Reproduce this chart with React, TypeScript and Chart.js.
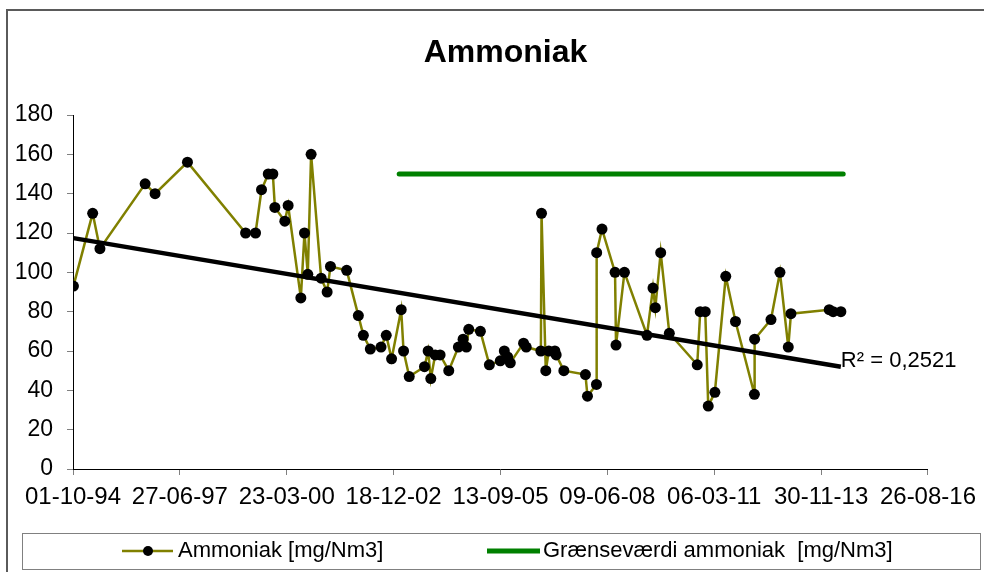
import React, { useEffect, useRef } from "react";
import { Chart, registerables } from "chart.js";

Chart.register(...registerables);

// ---------- data ----------
const chartTitle = "Ammoniak";
const seriesLabels = ["Ammoniak [mg/Nm3]", "Grænseværdi ammoniak  [mg/Nm3]"];

const sampleDates = [
  "1994-10-05", "1995-04-03", "1995-06-10", "1996-08-06", "1996-11-07", "1997-09-06",
  "1999-03-04", "1999-06-05", "1999-07-31", "1999-10-02", "1999-11-14", "1999-12-03",
  "2000-03-05", "2000-04-05", "2000-08-02", "2000-09-05", "2000-10-06", "2000-11-06",
  "2001-02-08", "2001-04-05", "2001-05-06", "2001-10-05", "2002-01-22", "2002-03-10",
  "2002-05-14", "2002-08-22", "2002-10-10", "2002-11-29", "2003-02-27", "2003-03-21",
  "2003-05-13", "2003-10-03", "2003-11-06", "2003-12-01", "2004-01-11", "2004-02-26",
  "2004-05-17", "2004-08-15", "2004-09-28", "2004-10-29", "2004-11-20", "2005-03-09",
  "2005-06-01", "2005-09-11", "2005-10-19", "2005-11-19", "2005-12-14", "2006-04-17",
  "2006-05-12", "2006-09-26", "2006-10-02", "2006-11-11", "2006-12-09", "2007-02-04",
  "2007-02-16", "2007-04-29", "2007-11-17", "2007-12-06", "2008-02-28", "2008-03-01",
  "2008-04-20", "2008-08-20", "2008-08-29", "2008-11-16", "2009-06-15", "2009-08-10",
  "2009-09-01", "2009-10-21", "2010-01-10", "2010-09-28", "2010-10-26", "2010-12-12",
  "2011-01-09", "2011-03-12", "2011-06-22", "2011-09-21", "2012-03-16", "2012-03-18",
  "2012-08-18", "2012-11-10", "2013-01-27", "2013-02-21", "2014-02-14", "2014-03-23",
  "2014-06-03",
];

const ammoniakValues = [
  93, 130, 112, 145, 140, 156,
  120, 120, 142, 150, 150, 133,
  126, 134, 87, 120, 99, 160,
  97, 90, 103, 101, 78, 68,
  61, 62, 68, 56, 81, 60,
  47, 52, 60, 46, 58, 58,
  50, 62, 66, 62, 71, 70,
  53, 55, 60, 57, 54, 64,
  62, 60, 130, 50, 60, 60,
  58, 50, 48, 37, 43, 110,
  122, 100, 63, 100, 68, 92,
  82, 110, 69, 53, 80, 80,
  32, 39, 98, 75, 38, 66,
  76, 100, 62, 79, 81, 80,
  80,
];

const limitDates = ["2003-02-08", "2014-06-25"];
const limitValues = [150, 150];

const trendDates = ["1994-10-05", "2014-06-03"];
const trendValues = [117.4, 52];
const r2Text = "R² = 0,2521";

const axisStartDate = "1994-10-01";
const tickStepDays = 1000;
const tickIntervals = 8;
const yMin = 0;
const yMax = 180;
const yStep = 20;

// ---------- helpers ----------
const DAY = 86400000;
const toDay = (s: string) => {
  const [y, m, d] = s.split("-").map(Number);
  return Date.UTC(y, m - 1, d) / DAY;
};
const pad2 = (n: number) => (n < 10 ? "0" + n : "" + n);
const fmtDay = (v: number) => {
  const dt = new Date(Math.round(v) * DAY);
  return pad2(dt.getUTCDate()) + "-" + pad2(dt.getUTCMonth() + 1) + "-" + pad2(dt.getUTCFullYear() % 100);
};

const FONT = "'Liberation Sans', Arial, sans-serif";
const OLIVE = "#808000";
const GREEN = "#008000";

const decorPlugin = {
  id: "decor",
  afterDraw(chart: any) {
    const ctx = chart.ctx;
    const area = chart.chartArea;
    const xs = chart.scales.x;
    const ys = chart.scales.y;
    ctx.save();

    // outer frame
    ctx.strokeStyle = "#5a5a5a";
    ctx.lineWidth = 2;
    ctx.strokeRect(7, 10, chart.width + 20, chart.height + 20);

    // title
    ctx.fillStyle = "#000";
    ctx.font = "bold 32px " + FONT;
    ctx.textAlign = "center";
    ctx.textBaseline = "alphabetic";
    ctx.fillText(chartTitle, (area.left + area.right) / 2 + 5, 62);

    // R² label at trendline end
    const tx = xs.getPixelForValue(toDay(trendDates[1]));
    const ty = ys.getPixelForValue(trendValues[1]);
    ctx.font = "22px " + FONT;
    ctx.textAlign = "left";
    ctx.textBaseline = "middle";
    ctx.fillText(r2Text, tx, ty - 6);

    // legend box
    ctx.strokeStyle = "#808080";
    ctx.lineWidth = 1;
    ctx.strokeRect(22.5, 533.5, 958, 36);
    const ly = 551;
    // item 1
    ctx.strokeStyle = OLIVE;
    ctx.lineWidth = 2.5;
    ctx.beginPath();
    ctx.moveTo(122, ly);
    ctx.lineTo(173, ly);
    ctx.stroke();
    ctx.fillStyle = "#000";
    ctx.beginPath();
    ctx.arc(148, ly, 5, 0, Math.PI * 2);
    ctx.fill();
    ctx.font = "22px " + FONT;
    ctx.fillText(chart.data.datasets[1].label, 178, ly);
    // item 2
    ctx.strokeStyle = GREEN;
    ctx.lineWidth = 5;
    ctx.beginPath();
    ctx.moveTo(487, ly);
    ctx.lineTo(540, ly);
    ctx.stroke();
    ctx.fillText(chart.data.datasets[2].label, 543, ly);

    ctx.restore();
  },
};

export default function App() {
  const ref = useRef<HTMLCanvasElement | null>(null);

  useEffect(() => {
    if (!ref.current) return;
    const x0 = toDay(axisStartDate);
    const chart = new Chart(ref.current, {
      type: "line",
      data: {
        datasets: [
          {
            label: "Lineær tendens",
            data: trendDates.map((d, i) => ({ x: toDay(d), y: trendValues[i] })),
            borderColor: "#000",
            borderWidth: 4.5,
            pointRadius: 0,
            fill: false,
          },
          {
            label: seriesLabels[0],
            data: sampleDates.map((d, i) => ({ x: toDay(d), y: ammoniakValues[i] })),
            borderColor: OLIVE,
            borderWidth: 2.5,
            pointRadius: 5.5,
            pointBackgroundColor: "#000",
            pointBorderColor: "#000",
            pointBorderWidth: 0,
            tension: 0,
            fill: false,
          },
          {
            label: seriesLabels[1],
            data: limitDates.map((d, i) => ({ x: toDay(d), y: limitValues[i] })),
            borderColor: GREEN,
            borderWidth: 5,
            borderCapStyle: "round",
            pointRadius: 0,
            fill: false,
          },
        ],
      },
      options: {
        animation: false,
        responsive: false,
        devicePixelRatio: 1,
        layout: { padding: { top: 115, left: 0, right: 54, bottom: 53 } },
        plugins: {
          legend: { display: false },
          title: { display: false },
          tooltip: { enabled: false },
        },
        scales: {
          x: {
            type: "linear",
            min: x0,
            max: x0 + tickStepDays * tickIntervals,
            afterFit: (s: any) => {
              s.height = 50;
            },
            ticks: {
              stepSize: tickStepDays,
              autoSkip: false,
              maxRotation: 0,
              minRotation: 0,
              padding: 8,
              color: "#000",
              font: { family: FONT, size: 24 },
              callback: (v: any) => fmtDay(Number(v)),
            },
            grid: {
              drawOnChartArea: false,
              drawTicks: true,
              tickLength: 6,
              color: "#808080",
            },
            border: { display: true, color: "#000", width: 1 },
          },
          y: {
            min: yMin,
            max: yMax,
            afterFit: (s: any) => {
              s.width = 73;
            },
            ticks: {
              stepSize: yStep,
              padding: 14,
              color: "#000",
              font: { family: FONT, size: 23 },
            },
            grid: {
              drawOnChartArea: false,
              drawTicks: true,
              tickLength: 6,
              color: "#808080",
            },
            border: { display: true, color: "#000", width: 1 },
          },
        },
      },
      plugins: [decorPlugin],
    } as any);
    return () => chart.destroy();
  }, []);

  return (
    <div style={{ position: "fixed", left: 0, top: 0, width: 984, height: 572, background: "#fff" }}>
      <canvas ref={ref} width={984} height={572} style={{ display: "block" }} />
    </div>
  );
}
